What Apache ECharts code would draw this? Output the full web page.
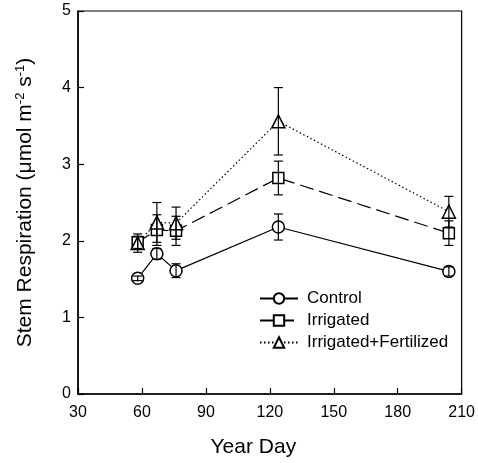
<!DOCTYPE html>
<html>
<head>
<meta charset="utf-8">
<script src="https://cdn.jsdelivr.net/npm/echarts@6/dist/echarts.min.js"></script>
<style>
  html, body { margin: 0; padding: 0; background: #fff; }
  #chart { width: 478px; height: 463px; }
</style>
</head>
<body>
<div id="chart"></div>
<script>
const days = [58, 67, 76, 124, 204]

const controlMean = [1.51, 1.83, 1.61, 2.18, 1.60]
const controlErr = [0.03, 0.07, 0.09, 0.17, 0.06]

const irrigatedMean = [1.98, 2.14, 2.13, 2.82, 2.10]
const irrigatedErr = [0.08, 0.2, 0.19, 0.22, 0.16]

const fertMean = [1.97, 2.24, 2.23, 3.56, 2.38]
const fertErr = [0.12, 0.26, 0.21, 0.44, 0.2]

const font = 'Liberation Sans, Arial, sans-serif'

const chart = echarts.init(document.getElementById('chart'), null, { renderer: 'canvas' })

const toPoints = (mean) => days.map((d, i) => [d, mean[i]])
const toErr = (mean, err) => days.map((d, i) => [d, mean[i] - err[i], mean[i] + err[i]])

// vertical error bar with caps
const errorSeries = (name, mean, err) => ({
  name: name + ' SE',
  type: 'custom',
  z: 5,
  silent: true,
  data: toErr(mean, err),
  renderItem: (params, api) => {
    const lo = api.coord([api.value(0), api.value(1)])
    const hi = api.coord([api.value(0), api.value(2)])
    const w = 4.5
    const style = { stroke: '#000', lineWidth: 1.2 }
    return {
      type: 'group',
      children: [
        { type: 'line', shape: { x1: lo[0], y1: lo[1], x2: hi[0], y2: hi[1] }, style },
        { type: 'line', shape: { x1: lo[0] - w, y1: lo[1], x2: lo[0] + w, y2: lo[1] }, style },
        { type: 'line', shape: { x1: hi[0] - w, y1: hi[1], x2: hi[0] + w, y2: hi[1] }, style }
      ]
    }
  }
})

const lineSeries = (name, mean, symbol, size, lineType) => ({
  name,
  type: 'line',
  z: 3,
  data: toPoints(mean),
  symbol,
  symbolSize: size,
  showAllSymbol: true,
  lineStyle: { color: '#000', width: 1.2, type: lineType },
  itemStyle: { color: '#fff', borderColor: '#000', borderWidth: 1.5 }
})

const option = {
  animation: false,
  backgroundColor: '#fff',
  grid: {
    left: 78,
    right: 16,
    top: 11,
    bottom: 69,
    show: true,
    borderColor: '#000',
    borderWidth: 1.2
  },
  legend: {
    data: ['Control', 'Irrigated', 'Irrigated+Fertilized'],
    orient: 'vertical',
    left: 254,
    top: 285,
    itemWidth: 38,
    itemHeight: 13,
    itemGap: 5,
    textStyle: { color: '#000', fontSize: 17, fontFamily: font, padding: [0, 0, 0, 4] }
  },
  xAxis: {
    type: 'value',
    min: 30,
    max: 210,
    interval: 30,
    name: 'Year Day',
    nameLocation: 'middle',
    nameGap: 43,
    nameTextStyle: { color: '#000', fontSize: 21, fontFamily: font, padding: [0, 33, 0, 0] },
    axisLine: { lineStyle: { color: '#000', width: 1.5 } },
    axisTick: { inside: true, length: 6, lineStyle: { color: '#000', width: 1.2 } },
    axisLabel: { color: '#000', fontSize: 16, fontFamily: font, margin: 11 },
    splitLine: { show: false }
  },
  yAxis: {
    type: 'value',
    min: 0,
    max: 5,
    interval: 1,
    name: 'Stem Respiration (μmol m{sup|-2} s{sup|-1})',
    nameLocation: 'middle',
    nameGap: 42,
    nameTextStyle: {
      color: '#000',
      fontSize: 21,
      fontFamily: font,
      rich: {
        sup: { fontSize: 13, fontFamily: font, color: '#000', verticalAlign: 'top', padding: [0, 0, 9, 0] }
      }
    },
    axisLine: { lineStyle: { color: '#000', width: 1.5 } },
    axisTick: { inside: true, length: 6, lineStyle: { color: '#000', width: 1.2 } },
    axisLabel: { color: '#000', fontSize: 16, fontFamily: font, margin: 7 },
    splitLine: { show: false }
  },
  series: [
    lineSeries('Control', controlMean, 'circle', 12, 'solid'),
    lineSeries('Irrigated', irrigatedMean, 'rect', 11, [14, 6]),
    lineSeries('Irrigated+Fertilized', fertMean, 'triangle', 13, [1.5, 2.5]),
    errorSeries('Control', controlMean, controlErr),
    errorSeries('Irrigated', irrigatedMean, irrigatedErr),
    errorSeries('Irrigated+Fertilized', fertMean, fertErr)
  ]
}

chart.setOption(option)
</script>
</body>
</html>
